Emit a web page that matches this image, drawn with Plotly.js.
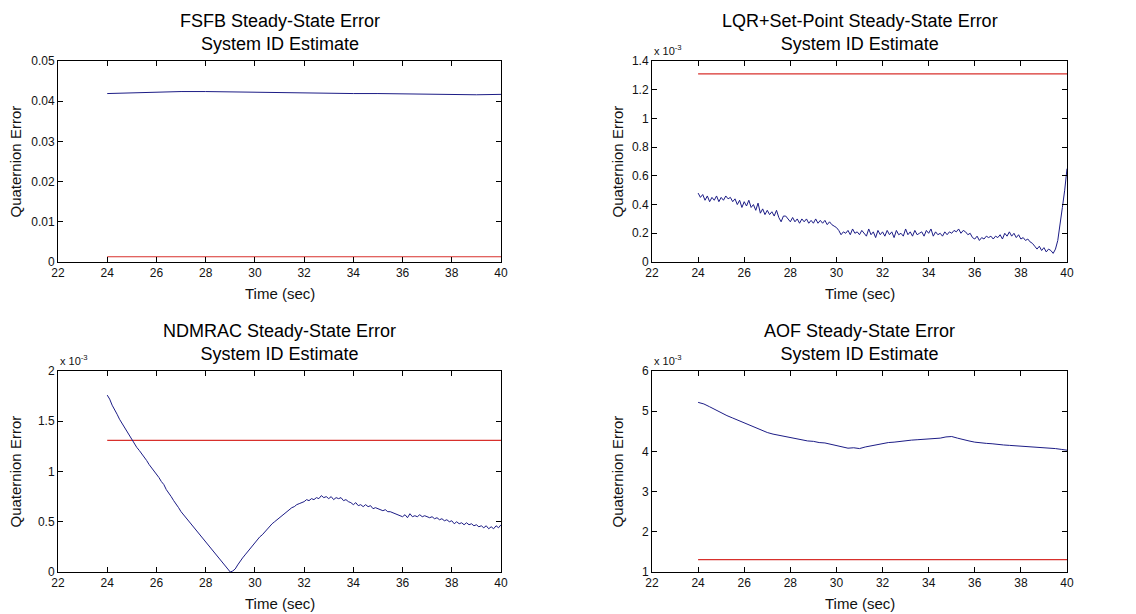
<!DOCTYPE html>
<html>
<head>
<meta charset="utf-8">
<script src="https://cdn.plot.ly/plotly-3.0.1.min.js"></script>
<style>
html,body{margin:0;padding:0;background:#fff;}
#chart{width:1136px;height:614px;}
</style>
</head>
<body>
<div id="chart"></div>
<script>
// ---------- DATA ----------
const thresholdE3 = 1.31; // red limit line, x 10^-3
const thresholdTime = [24, 40];

// FSFB (actual units)
const fsfbTime = [24,25,26,27,28,29,30,31,32,33,34,35,36,37,38,39,40];
const fsfbErr = [0.0419,0.0421,0.0423,0.0424,0.0424,0.0423,0.0423,0.0421,0.0420,0.0419,0.0419,0.0419,0.0418,0.0417,0.0416,0.0416,0.0417];

// fine time grid (0.1 s) for LQR and NDMRAC
const fineTime = Array.from({length:161}, (_, i) => +(24 + i*0.1).toFixed(1));

// LQR+Set-Point (x 10^-3)
const lqrErrE3 = [
 0.48,0.45,0.47,0.43,0.46,0.42,0.45,0.43,0.46,0.42,
 0.45,0.43,0.46,0.44,0.45,0.42,0.44,0.40,0.43,0.38,
 0.42,0.39,0.43,0.38,0.40,0.36,0.41,0.34,0.37,0.33,
 0.36,0.33,0.35,0.32,0.36,0.31,0.28,0.32,0.32,0.30,
 0.28,0.31,0.28,0.30,0.27,0.30,0.28,0.30,0.27,0.29,
 0.27,0.30,0.27,0.29,0.27,0.29,0.26,0.28,0.26,0.25,
 0.24,0.22,0.19,0.21,0.20,0.22,0.19,0.23,0.20,0.21,
 0.19,0.22,0.20,0.18,0.23,0.19,0.21,0.17,0.22,0.19,
 0.21,0.18,0.22,0.19,0.21,0.17,0.22,0.19,0.20,0.18,
 0.23,0.19,0.21,0.18,0.22,0.19,0.20,0.21,0.18,0.22,
 0.20,0.23,0.18,0.21,0.19,0.20,0.18,0.21,0.19,0.21,
 0.20,0.22,0.21,0.23,0.20,0.22,0.21,0.19,0.20,0.17,
 0.16,0.18,0.15,0.17,0.16,0.18,0.17,0.18,0.16,0.18,
 0.17,0.19,0.16,0.20,0.18,0.21,0.18,0.20,0.17,0.19,
 0.16,0.17,0.15,0.16,0.14,0.13,0.11,0.09,0.11,0.08,
 0.10,0.07,0.09,0.08,0.06,0.09,0.15,0.25,0.38,0.50,
 0.65];

// NDMRAC (x 10^-3)
const ndmracErrE3 = [
 1.76,1.72,1.66,1.62,1.57,1.52,1.48,1.43,1.39,1.35,
 1.31,1.28,1.24,1.21,1.18,1.15,1.11,1.07,1.04,1.00,
 0.97,0.94,0.90,0.87,0.82,0.79,0.75,0.71,0.68,0.64,
 0.60,0.57,0.54,0.51,0.48,0.45,0.42,0.38,0.35,0.32,
 0.29,0.27,0.23,0.21,0.17,0.15,0.11,0.09,0.05,0.03,
 0.00,0.01,0.03,0.07,0.11,0.14,0.17,0.20,0.24,0.26,
 0.29,0.32,0.35,0.37,0.40,0.42,0.45,0.48,0.50,0.52,
 0.54,0.56,0.58,0.60,0.62,0.64,0.65,0.67,0.68,0.69,
 0.70,0.72,0.71,0.73,0.72,0.74,0.73,0.76,0.74,0.75,
 0.73,0.75,0.72,0.74,0.73,0.74,0.71,0.72,0.70,0.69,
 0.67,0.69,0.66,0.67,0.65,0.67,0.65,0.66,0.63,0.64,
 0.63,0.62,0.61,0.62,0.60,0.60,0.59,0.58,0.57,0.56,
 0.55,0.57,0.54,0.58,0.55,0.56,0.55,0.57,0.55,0.56,
 0.55,0.54,0.55,0.53,0.54,0.52,0.53,0.51,0.52,0.50,
 0.51,0.48,0.50,0.48,0.49,0.47,0.49,0.47,0.48,0.46,
 0.47,0.45,0.46,0.44,0.46,0.43,0.45,0.43,0.46,0.44,
 0.47];

// AOF (x 10^-3), 0.25 s grid
const aofTime = Array.from({length:65}, (_, i) => 24 + i*0.25);
const aofErrE3 = [
 5.22,5.18,5.11,5.03,4.96,4.89,4.83,4.77,4.71,4.65,4.59,4.53,4.47,4.43,4.40,4.37,
 4.34,4.31,4.28,4.26,4.25,4.22,4.21,4.18,4.15,4.12,4.08,4.09,4.07,4.11,4.14,4.17,
 4.20,4.22,4.23,4.25,4.27,4.28,4.29,4.30,4.31,4.32,4.33,4.36,4.37,4.33,4.29,4.26,
 4.23,4.21,4.20,4.19,4.17,4.16,4.15,4.14,4.13,4.12,4.12,4.10,4.09,4.08,4.07,4.05,
 4.03];

const titles = ["FSFB Steady-State Error<br>System ID Estimate",
                "LQR+Set-Point Steady-State Error<br>System ID Estimate",
                "NDMRAC Steady-State Error<br>System ID Estimate",
                "AOF Steady-State Error<br>System ID Estimate"];
const yRanges = [[0,0.05],[0,1.4],[0,2],[1,6]];
const yDticks = [0.01,0.2,0.5,1];
const scaled = [false,true,true,true];

// ---------- LAYOUT ----------
const W = 1136, H = 614;
const BLUE = '#1c1c86', RED = '#d8302c';
const FONT = 'Liberation Sans, Arial, sans-serif';
// pixel boxes [left, right, top, bottom]
const boxes = [[58,501,61,262],[652,1067,61,262],[58,501,371,572],[652,1067,371,572]];

const xData = [fsfbTime, fineTime, fineTime, aofTime];
const yData = [fsfbErr, lqrErrE3, ndmracErrE3, aofErrE3];
const thr = [thresholdE3*1e-3, thresholdE3, thresholdE3, thresholdE3];

const traces = [];
const layout = {
  width: W, height: H,
  margin: {l:0, r:0, t:0, b:0},
  paper_bgcolor: '#fff', plot_bgcolor: '#fff',
  showlegend: false,
  font: {family: FONT, color: '#000', size: 12},
  annotations: []
};

for (let k = 0; k < 4; k++) {
  const n = k === 0 ? '' : String(k+1);
  const [l, r, t, b] = boxes[k];
  traces.push({x: thresholdTime, y: [thr[k], thr[k]], xaxis: 'x'+n, yaxis: 'y'+n, type: 'scatter', mode: 'lines',
               line: {color: RED, width: 1.2}, hoverinfo: 'skip'});
  traces.push({x: xData[k], y: yData[k], xaxis: 'x'+n, yaxis: 'y'+n, type: 'scatter', mode: 'lines',
               line: {color: BLUE, width: 1}, hoverinfo: 'skip'});
  const axCommon = {showgrid: false, zeroline: false, showline: true, linecolor: '#000', linewidth: 1,
                    mirror: 'ticks', ticks: 'inside', ticklen: 5, tickcolor: '#000',
                    tickfont: {family: FONT, size: 12, color: '#111'}};
  layout['xaxis'+n] = Object.assign({}, axCommon, {domain: [l/W, r/W], range: [22,40], dtick: 2, tick0: 22,
                    anchor: 'y'+n});
  layout['yaxis'+n] = Object.assign({}, axCommon, {domain: [1-b/H, 1-t/H], range: yRanges[k], dtick: yDticks[k],
                    tick0: yRanges[k][0], anchor: 'x'+n});
  const cx = (l + r) / 2 / W;
  layout.annotations.push({text: titles[k], xref: 'paper', yref: 'paper', x: cx, y: 1 - t/H,
                    xanchor: 'center', yanchor: 'bottom', yshift: 5, showarrow: false,
                    font: {family: FONT, size: 18, color: '#000'}});
  layout.annotations.push({text: 'Time (sec)', xref: 'paper', yref: 'paper', x: cx, y: 1 - (b+31)/H,
                    xanchor: 'center', yanchor: 'middle', showarrow: false,
                    font: {family: FONT, size: 15, color: '#111'}});
  const ylx = (k % 2 === 0) ? 15 : 617;
  layout.annotations.push({text: 'Quaternion Error', xref: 'paper', yref: 'paper', x: ylx/W, y: 1 - (t+b)/2/H,
                    xanchor: 'center', yanchor: 'middle', textangle: -90, showarrow: false,
                    font: {family: FONT, size: 15, color: '#111'}});
  if (scaled[k]) {
    layout.annotations.push({text: 'x 10<sup>-3</sup>', xref: 'paper', yref: 'paper', x: l/W, y: 1 - t/H,
                    xanchor: 'left', yanchor: 'bottom', yshift: 2, showarrow: false,
                    font: {family: FONT, size: 11, color: '#111'}});
  }
}

Plotly.newPlot('chart', traces, layout, {staticPlot: true, displayModeBar: false});
</script>
</body>
</html>
